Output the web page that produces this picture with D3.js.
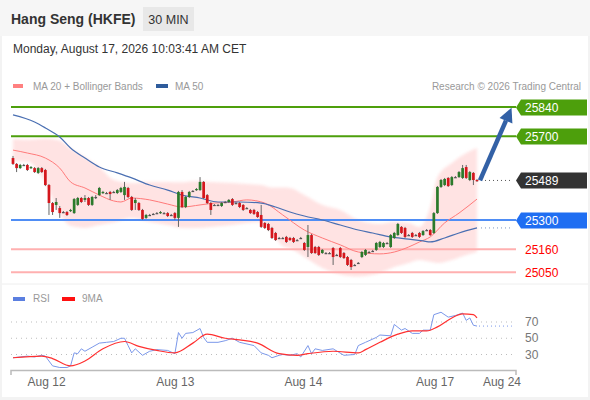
<!DOCTYPE html>
<html>
<head>
<meta charset="utf-8">
<script src="https://cdn.jsdelivr.net/npm/d3@7/dist/d3.min.js"></script>
<style>
  html, body { margin: 0; padding: 0; background: #f3f3f3; }
  svg { display: block; font-family: "Liberation Sans", Arial, sans-serif; }
</style>
</head>
<body>
<svg id="chart" width="590" height="400"></svg>
<script>
// 30 min candles, [open, high, low, close]
const candles = [
  [25596,25606,25563,25568],[25568,25572,25529,25548],[25548,25568,25544,25563],[25563,25568,25558,25563],
  [25563,25568,25534,25539],[25548,25558,25544,25553],[25548,25553,25525,25529],[25525,25553,25520,25548],
  [25548,25553,25525,25529],[25539,25544,25462,25467],[25467,25472,25324,25381],[25381,25386,25324,25338],
  [25372,25405,25348,25386],[25357,25367,25310,25333],[25338,25343,25333,25338],[25338,25343,25319,25324],
  [25343,25353,25338,25348],[25333,25405,25329,25400],[25372,25410,25367,25405],[25405,25410,25381,25386],
  [25396,25419,25386,25405],[25405,25410,25367,25372],[25372,25415,25367,25410],[25410,25419,25400,25410],
  [25419,25458,25415,25453],[25429,25439,25424,25434],[25429,25434,25424,25429],[25434,25439,25396,25424],
  [25434,25439,25429,25434],[25429,25448,25424,25443],[25434,25458,25429,25453],[25419,25482,25396,25458],
  [25453,25458,25405,25410],[25410,25415,25343,25348],[25381,25405,25348,25396],[25381,25386,25343,25348],
  [25348,25353,25300,25305],[25310,25329,25305,25324],[25324,25329,25319,25324],[25329,25333,25324,25329],
  [25333,25338,25329,25333],[25333,25343,25329,25338],[25333,25338,25329,25333],[25333,25338,25314,25319],
  [25324,25329,25319,25324],[25333,25338,25300,25310],[25310,25439,25267,25434],[25434,25443,25357,25362],
  [25362,25415,25357,25410],[25410,25439,25405,25434],[25439,25443,25434,25439],[25443,25453,25439,25448],
  [25443,25505,25439,25482],[25482,25486,25400,25405],[25419,25424,25376,25381],[25381,25386,25324,25348],
  [25372,25376,25367,25372],[25372,25376,25367,25372],[25367,25386,25362,25381],[25386,25391,25381,25386],
  [25386,25400,25381,25396],[25400,25405,25367,25372],[25381,25386,25376,25381],[25381,25386,25357,25362],
  [25372,25376,25343,25348],[25357,25362,25353,25357],[25348,25353,25329,25333],[25348,25353,25324,25329],
  [25338,25343,25310,25314],[25324,25372,25262,25267],[25286,25290,25257,25262],[25281,25286,25247,25252],
  [25262,25267,25209,25214],[25238,25243,25200,25204],[25214,25219,25209,25214],[25214,25219,25209,25214],
  [25219,25224,25190,25195],[25214,25219,25200,25204],[25214,25219,25190,25195],[25204,25209,25200,25204],
  [25214,25219,25209,25214],[25190,25195,25152,25157],[25171,25276,25123,25228],[25228,25233,25138,25142],
  [25171,25176,25138,25142],[25171,25176,25128,25133],[25142,25161,25138,25157],[25142,25147,25138,25142],
  [25142,25147,25138,25142],[25166,25171,25085,25123],[25133,25138,25128,25133],[25166,25171,25118,25123],
  [25142,25147,25114,25118],[25123,25128,25080,25085],[25109,25114,25061,25075],[25085,25090,25080,25085],
  [25095,25099,25090,25095],[25123,25152,25118,25147],[25133,25161,25128,25157],[25147,25152,25142,25147],
  [25152,25157,25147,25152],[25157,25195,25152,25190],[25171,25200,25166,25195],[25171,25195,25166,25190],
  [25190,25195,25185,25190],[25171,25233,25166,25228],[25214,25243,25209,25238],[25228,25286,25224,25281],
  [25267,25271,25233,25238],[25262,25267,25214,25219],[25228,25233,25224,25228],[25238,25243,25214,25219],
  [25228,25233,25224,25228],[25238,25243,25214,25219],[25228,25252,25224,25247],[25252,25257,25247,25252],
  [25252,25257,25224,25228],[25238,25338,25233,25333],[25333,25462,25329,25458],[25458,25496,25453,25491],
  [25467,25501,25462,25496],[25501,25505,25458,25462],[25467,25510,25462,25505],[25505,25510,25501,25505],
  [25505,25534,25501,25529],[25501,25563,25496,25548],[25553,25563,25496,25501],[25491,25534,25486,25529],
  [25525,25529,25467,25491],[25491,25496,25482,25489]
];

// indicator readings at candle indices
const ma20Idx = [0, 4, 9, 13, 16, 20, 24, 28, 30, 33, 38, 43, 47, 52, 56, 61, 65, 70, 75, 81, 86, 91, 96, 102, 106, 110, 113, 116, 120, 124, 129];
const ma20Val = [25634, 25620, 25596, 25548, 25482, 25453, 25419, 25391, 25386, 25405, 25396, 25376, 25362, 25372, 25381, 25386, 25396, 25381, 25324, 25252, 25214, 25181, 25147, 25138, 25147, 25171, 25195, 25219, 25286, 25333, 25400];

const ma50Idx = [0, 6, 9, 13, 16, 20, 24, 29, 33, 38, 43, 47, 52, 57, 63, 69, 73, 77, 81, 86, 91, 96, 100, 105, 110, 114, 116, 120, 124, 129];
const ma50Val = [25802, 25768, 25740, 25697, 25644, 25596, 25553, 25525, 25501, 25467, 25443, 25419, 25405, 25386, 25386, 25381, 25362, 25338, 25319, 25300, 25276, 25252, 25238, 25219, 25209, 25200, 25195, 25214, 25238, 25262];

const bandIdx = [0, 4, 9, 13, 16, 20, 24, 28, 33, 38, 43, 47, 50, 55, 61, 65, 69, 72, 75, 77, 81, 86, 91, 96, 102, 106, 110, 113, 116, 118, 122, 126, 129];
const bandUpper = [25687, 25684, 25690, 25680, 25640, 25600, 25553, 25491, 25477, 25482, 25482, 25480, 25485, 25482, 25477, 25472, 25467, 25455, 25455, 25453, 25419, 25372, 25348, 25300, 25281, 25290, 25286, 25267, 25362, 25505, 25572, 25620, 25644];
const bandLower = [25582, 25580, 25477, 25330, 25272, 25262, 25276, 25288, 25310, 25290, 25276, 25262, 25262, 25267, 25276, 25286, 25290, 25240, 25175, 25165, 25123, 25071, 25040, 25030, 25047, 25075, 25095, 25109, 25100, 25095, 25109, 25133, 25147];

const rsiIdx = [0, 2, 4, 6, 8, 9, 11, 13, 15, 16, 17, 18, 19, 20, 22, 24, 26, 28, 30, 31, 32, 33, 34, 36, 38, 40, 43, 45, 46, 47, 48, 50, 52, 53, 54, 57, 59, 61, 63, 67, 69, 71, 72, 74, 75, 77, 79, 80, 82, 83, 84, 86, 89, 92, 95, 96, 98, 101, 102, 105, 106, 108, 109, 111, 113, 114, 116, 117, 119, 121, 123, 125, 126, 127, 128, 129];
const rsiVal = [26, 27, 28, 27, 29, 28, 16, 14, 14, 16, 32, 31, 37, 34, 39, 44, 45, 46, 50, 50, 41, 32, 37, 29, 34, 36, 35, 31, 57, 50, 56, 57, 62, 51, 45, 45, 47, 50, 45, 41, 32, 29, 26, 29, 30, 29, 31, 27, 41, 31, 37, 35, 37, 29, 30, 41, 45, 51, 54, 53, 67, 60, 62, 56, 56, 60, 60, 79, 82, 76, 78, 81, 72, 75, 66, 65];

const rsiMaIdx = [0, 8, 11, 16, 20, 25, 31, 35, 40, 45, 50, 54, 59, 63, 68, 74, 79, 82, 89, 96, 98, 102, 107, 111, 115, 118, 122, 125, 128, 129];
const rsiMaVal = [26, 28, 25, 16, 22, 37, 46, 40, 35, 32, 44, 55, 50, 48, 44, 31, 29, 31, 34, 32, 36, 45, 55, 59, 59, 64, 75, 80, 79, 75];

const rsiLevels = [70, 50, 30];

const levelValues = [25840, 25700, 25489, 25300, 25160, 25050];
const levelKinds = ["res", "res", "last", "sup", "tgt", "tgt"];

const dateLabels = ["Aug 12", "Aug 13", "Aug 14", "Aug 17", "Aug 24"];
const dateIdx = [9.2, 45, 80.6, 117.2, 135.8];

const lastPrice = 25489;
const ma50Last = 25262;
const rsiLast = 65;
const targetPrice = 25836;

// ---------------------------------------------------------------
const svg = d3.select("#chart");

const x = d3.scaleLinear().domain([0, candles.length - 1]).range([13, 477]);
const y = d3.scaleLinear().domain([25050, 25840]).range([272.3, 107]);
const yR = d3.scaleLinear().domain([30, 70]).range([354.5, 322]);

const xLeft = 11, xRight = 516;
const lastX = x(candles.length - 1);
const xExtEnd = x(138.7);

// frame
svg.append("rect").attr("x", 0).attr("y", 0).attr("width", 590).attr("height", 36).attr("fill", "#f6f6f6");
svg.append("rect").attr("x", 2).attr("y", 36).attr("width", 586).attr("height", 361).attr("fill", "#fff");

// header
svg.append("text").attr("x", 11).attr("y", 24).attr("font-size", 14).attr("font-weight", "bold")
  .attr("fill", "#333").text("Hang Seng (HKFE)");
svg.append("rect").attr("x", 143).attr("y", 7).attr("width", 51).attr("height", 24).attr("fill", "#e8e8e8");
svg.append("text").attr("x", 168.5).attr("y", 23.5).attr("text-anchor", "middle").attr("font-size", 12.5)
  .attr("fill", "#333").text("30 MIN");
svg.append("text").attr("x", 13).attr("y", 52.5).attr("font-size", 12).attr("fill", "#333")
  .text("Monday, August 17, 2026 10:03:41 AM CET");

// legend
const legend = svg.append("g").attr("font-size", 10).attr("fill", "#999");
legend.append("rect").attr("x", 13).attr("y", 84).attr("width", 10).attr("height", 4).attr("fill", "#ff8080");
legend.append("text").attr("x", 33).attr("y", 89.5).text("MA 20 + Bollinger Bands");
legend.append("rect").attr("x", 156).attr("y", 84).attr("width", 12).attr("height", 4).attr("fill", "#2f5c9c");
legend.append("text").attr("x", 175).attr("y", 89.5).text("MA 50");
legend.append("text").attr("x", 581).attr("y", 89.5).attr("text-anchor", "end").text("Research \u00a9 2026 Trading Central");

// bollinger band
const blur = svg.append("defs").append("filter").attr("id", "soft").attr("x", "-5%").attr("y", "-10%")
  .attr("width", "110%").attr("height", "120%");
blur.append("feGaussianBlur").attr("stdDeviation", 1.6);

const band = d3.area()
  .x(d => x(d.i)).y0(d => y(d.lo)).y1(d => y(d.hi))
  .curve(d3.curveMonotoneX);
svg.append("path")
  .datum(bandIdx.map((i, k) => ({ i, hi: bandUpper[k], lo: bandLower[k] })))
  .attr("d", band).attr("fill", "#ffe0e0").attr("opacity", 0.9).attr("filter", "url(#soft)");

// separator
svg.append("line").attr("x1", 2).attr("x2", 588).attr("y1", 284).attr("y2", 284).attr("stroke", "#eee");

// level lines
const lineStyle = {
  res: { stroke: "#4d9f0c", width: 2 },
  sup: { stroke: "#4f8df5", width: 2 },
  tgt: { stroke: "#ffb0b0", width: 2 }
};
levelValues.forEach((v, k) => {
  const s = lineStyle[levelKinds[k]];
  if (!s) return;
  svg.append("line").attr("x1", xLeft).attr("x2", xRight)
    .attr("y1", y(v)).attr("y2", y(v)).attr("stroke", s.stroke).attr("stroke-width", s.width);
});

// moving averages
const smooth = d3.line().x(d => x(d[0])).y(d => y(d[1])).curve(d3.curveMonotoneX);
svg.append("path").datum(ma20Idx.map((i, k) => [i, ma20Val[k]]))
  .attr("d", smooth).attr("fill", "none").attr("stroke", "#ff7a7a").attr("stroke-width", 1);
svg.append("path").datum(ma50Idx.map((i, k) => [i, ma50Val[k]]))
  .attr("d", smooth).attr("fill", "none").attr("stroke", "#4a6fb2").attr("stroke-width", 1.2);

// candles
const bw = 2.7;
const cg = svg.append("g");
candles.forEach((c, i) => {
  const [o, h, l, cl] = c;
  const up = cl > o, flat = cl === o;
  const col = flat ? "#555" : (up ? "#2b7a2b" : "#d4161c");
  cg.append("line").attr("x1", x(i)).attr("x2", x(i)).attr("y1", y(h)).attr("y2", y(l))
    .attr("stroke", "#666").attr("stroke-width", 1);
  const top = y(Math.max(o, cl)), bot = y(Math.min(o, cl));
  cg.append("rect").attr("x", x(i) - bw / 2).attr("y", top)
    .attr("width", bw).attr("height", Math.max(1.2, bot - top)).attr("fill", col);
});

// extensions after the last bar
svg.append("line").attr("x1", lastX + 4).attr("x2", xExtEnd)
  .attr("y1", y(lastPrice)).attr("y2", y(lastPrice))
  .attr("stroke", "#555").attr("stroke-dasharray", "1,3");
svg.append("line").attr("x1", lastX + 4).attr("x2", xExtEnd)
  .attr("y1", y(ma50Last)).attr("y2", y(ma50Last))
  .attr("stroke", "#7f96bf").attr("stroke-dasharray", "1,3");

// forecast arrow
const ax0 = lastX + 3, ay0 = y(lastPrice);
const ax1 = x(138.6), ay1 = y(targetPrice);
const ang = Math.atan2(ay1 - ay0, ax1 - ax0);
const headL = 14, headW = 7;
const bx = ax1 - headL * Math.cos(ang), by = ay1 - headL * Math.sin(ang);
svg.append("line").attr("x1", ax0).attr("y1", ay0).attr("x2", bx).attr("y2", by)
  .attr("stroke", "#3361a6").attr("stroke-width", 4.5);
svg.append("path")
  .attr("d", `M${ax1},${ay1}L${bx + headW * Math.sin(ang)},${by - headW * Math.cos(ang)}L${bx - headW * Math.sin(ang)},${by + headW * Math.cos(ang)}Z`)
  .attr("fill", "#3361a6");

// price tags
const tagFill = { res: "#4d9f0c", last: "#333333", sup: "#1f6ef2" };
levelValues.forEach((v, k) => {
  const kind = levelKinds[k];
  const yc = Math.round(y(v)) + 0.5;
  if (tagFill[kind]) {
    svg.append("path")
      .attr("d", `M516,${yc}L521,${yc - 8}L587,${yc - 8}L587,${yc + 8}L521,${yc + 8}Z`)
      .attr("fill", tagFill[kind]);
    svg.append("text").attr("x", 525).attr("y", yc + 4.5).attr("font-size", 12).attr("fill", "#fff").text(v);
  } else {
    svg.append("text").attr("x", 525).attr("y", yc + 4.5).attr("font-size", 12).attr("fill", "#f00").text(v);
  }
});

// RSI panel
const rl = svg.append("g").attr("font-size", 10).attr("fill", "#999");
rl.append("rect").attr("x", 13).attr("y", 297).attr("width", 12).attr("height", 4).attr("fill", "#5b7fe0");
rl.append("text").attr("x", 33).attr("y", 302).text("RSI");
rl.append("rect").attr("x", 62).attr("y", 297).attr("width", 13).attr("height", 4).attr("fill", "#ff1010");
rl.append("text").attr("x", 82).attr("y", 302).text("9MA");

rsiLevels.forEach(v => {
  svg.append("line").attr("x1", xLeft).attr("x2", xRight).attr("y1", yR(v)).attr("y2", yR(v))
    .attr("stroke", "#bdbdbd").attr("stroke-dasharray", "1,4");
  svg.append("text").attr("x", 525).attr("y", yR(v) + 4).attr("font-size", 12).attr("fill", "#777").text(v);
});

const rsiLine = d3.line().x(d => x(d[0])).y(d => yR(d[1]));
svg.append("path").datum(rsiIdx.map((i, k) => [i, rsiVal[k]]))
  .attr("d", rsiLine).attr("fill", "none").attr("stroke", "#7b98ea").attr("stroke-width", 1);
svg.append("path").datum(rsiMaIdx.map((i, k) => [i, rsiMaVal[k]]))
  .attr("d", rsiLine.curve(d3.curveMonotoneX)).attr("fill", "none").attr("stroke", "#ff3030").attr("stroke-width", 1.2);
svg.append("line").attr("x1", lastX + 2).attr("x2", xExtEnd)
  .attr("y1", yR(rsiLast)).attr("y2", yR(rsiLast))
  .attr("stroke", "#7b98ea").attr("stroke-dasharray", "1,3");

// time axis
svg.append("path").attr("d", `M${xLeft},375V370.5H${xRight}V375`)
  .attr("fill", "none").attr("stroke", "#bbb").attr("stroke-width", 1.5);
const xAxis = d3.axisBottom(x).tickValues(dateIdx).tickSize(0).tickPadding(0)
  .tickFormat((d, k) => dateLabels[k]);
const ax = svg.append("g").attr("transform", "translate(0,377)").call(xAxis);
ax.select(".domain").remove();
ax.selectAll("text").attr("font-size", 12).attr("fill", "#666")
  .attr("font-family", "Liberation Sans, Arial, sans-serif");
</script>
</body>
</html>
